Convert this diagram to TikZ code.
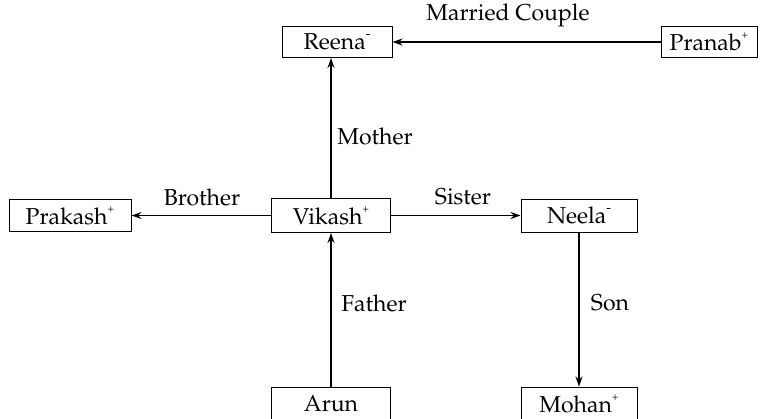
\documentclass[tikz,border=0pt]{standalone}
\usepackage[T1]{fontenc}
\usepackage{mathpazo}
\usetikzlibrary{arrows.meta}

\newcommand{\plustag}{\raisebox{6pt}{\fontsize{5.5}{5.5}\selectfont +}}
\newcommand{\minustag}{\raisebox{5.5pt}{\fontsize{7}{7}\selectfont -}}

\begin{document}
\begin{tikzpicture}[
        x=0.5pt, y=-0.5pt,
        font=\fontsize{11.5}{14}\selectfont,
        person/.style={draw, line width=0.5pt, inner sep=0pt, minimum height=15.5pt},
        relation/.style={line width=0.75pt, -{Stealth[length=5pt,width=3.5pt]}},
        tag/.style={inner sep=0pt},
    ]
    \useasboundingbox (0,0) rectangle (760,418);

    % people
    \node[person, minimum width=55pt] (reena) at (337,42) {Reena\minustag};
    \node[person, minimum width=48pt] (pranab) at (709,42) {Pranab\plustag};
    \node[person, minimum width=61pt, minimum height=16pt] (prakash) at (70,215.5) {Prakash\plustag};
    \node[person, minimum width=59.5pt, minimum height=17pt] (vikash) at (331,215.5) {Vikash\plustag};
    \node[person, minimum width=58pt, minimum height=16.5pt] (neela) at (579,215.5) {Neela\minustag};
    \node[person, minimum width=59.5pt, minimum height=17pt] (arun) at (331,404) {Arun};
    \node[person, minimum width=58pt, minimum height=17pt] (mohan) at (579,404) {Mohan\plustag};

    % relations
    \draw[relation] (pranab) -- (reena);
    \draw[relation] (vikash.north) -- (vikash.north |- reena.south);
    \draw[relation] (vikash) -- (prakash);
    \draw[relation] (vikash) -- (neela);
    \draw[relation] (arun) -- (vikash);
    \draw[relation] (neela) -- (mohan);

    % labels
    \node[tag] (married) at (508,15) {Married Couple};
    \node[tag] (mother) at (375,136) {Mother};
    \node[tag] (brother) at (202,197) {Brother};
    \node[tag] (sister) at (463,197) {Sister};
    \node[tag] (father) at (374,303) {Father};
    \node[tag] (son) at (610,303) {Son};
\end{tikzpicture}
\end{document}
